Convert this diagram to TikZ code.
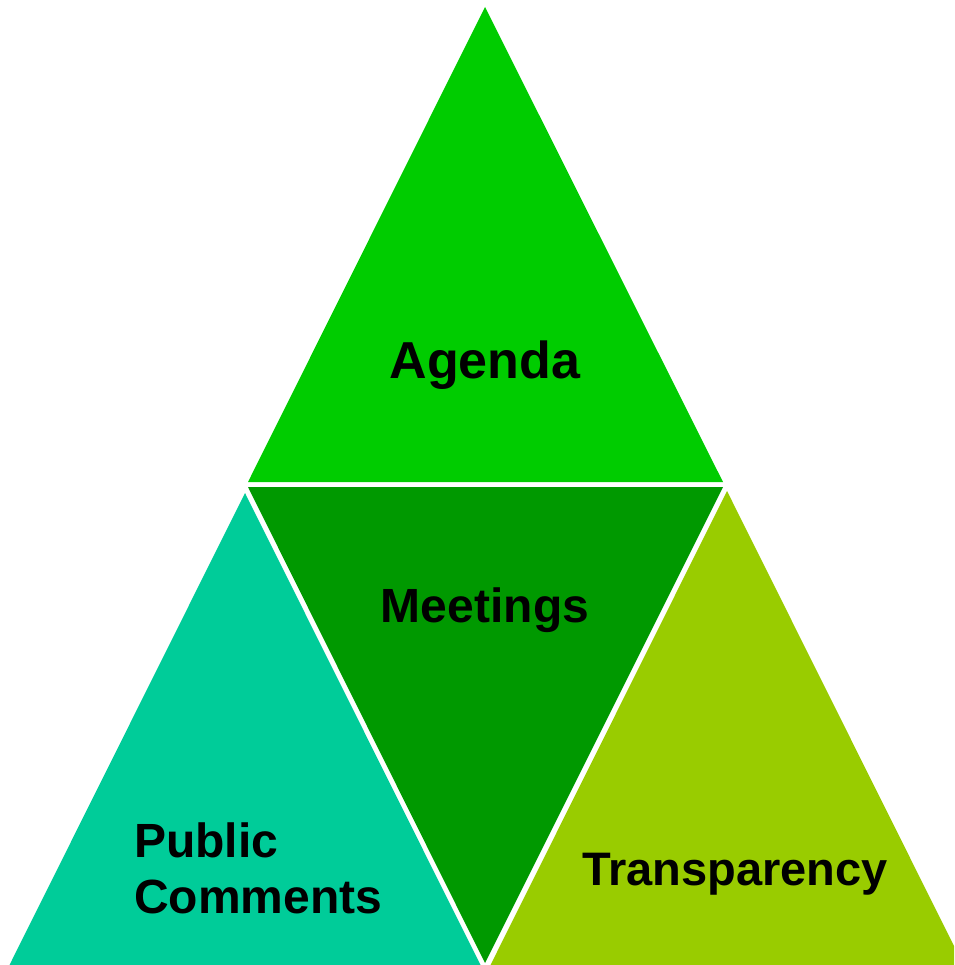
\documentclass[tikz,border=0pt]{standalone}
\usepackage{fontspec}
\setmainfont{Liberation Sans}
\definecolor{cTop}{HTML}{00CC00}
\definecolor{cMid}{HTML}{009900}
\definecolor{cLeft}{HTML}{00CC99}
\definecolor{cRight}{HTML}{99CC00}
\begin{document}
\begin{tikzpicture}[x=1pt,y=-1pt,
  lbl/.style={inner sep=0pt, text=black, font=\fontsize{48}{56}\selectfont\bfseries}]
\useasboundingbox (0,0) rectangle (954,965);
\clip (0,0) rectangle (954,965);
\fill[cTop]   (485,7) -- (248,482) -- (723,482) -- cycle;
\fill[cMid]   (248,487) -- (723,487) -- (485,963) -- cycle;
\fill[cLeft]  (245,493) -- (9,966) -- (481,966) -- cycle;
\fill[cRight] (727,491) -- (490,966) -- (964,966) -- cycle;
\node[lbl, anchor=base, font=\fontsize{52}{56}\selectfont\bfseries] (agenda) at (485,378) {Agenda};
\node[lbl, anchor=base] (meet) at (485,622) {Meetings};
\node[lbl, anchor=base west, align=left] (pub) at (134,913) {Public\\Comments};
\node[lbl, anchor=base, font=\fontsize{47}{56}\selectfont\bfseries] (trans) at (735,885) {Transparency};
\end{tikzpicture}
\end{document}
